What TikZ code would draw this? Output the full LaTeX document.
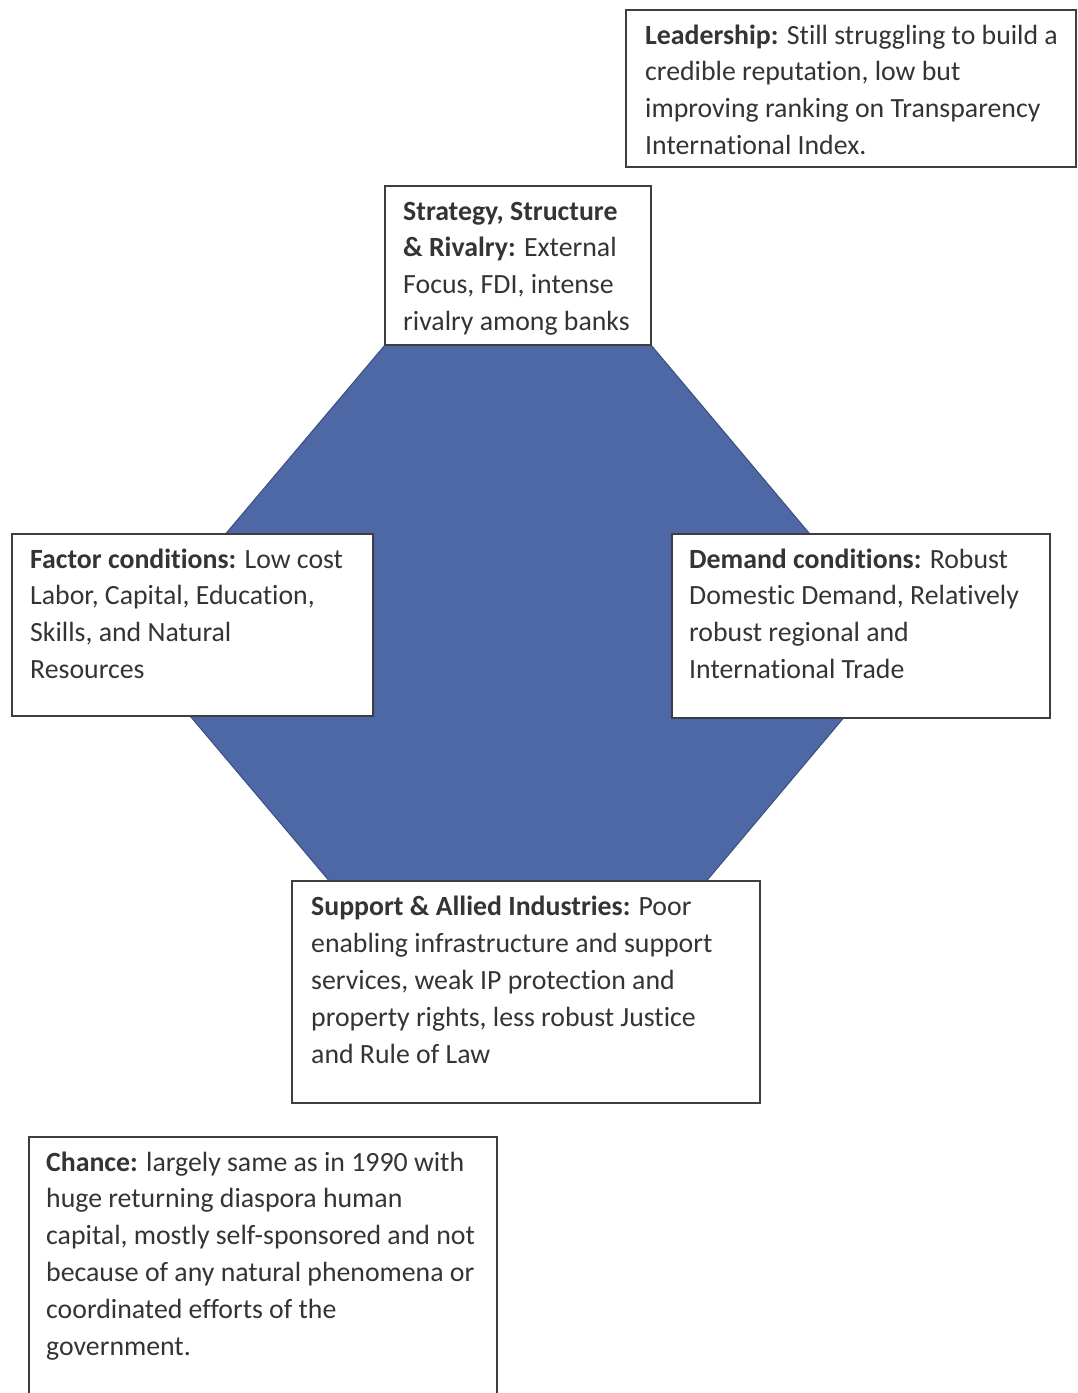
\documentclass[tikz,border=0pt]{standalone}
\usepackage{fontspec}
\setmainfont{Carlito}[Ligatures=NoCommon]
\definecolor{hexblue}{RGB}{78,104,166}
\definecolor{hexedge}{RGB}{58,78,128}
\definecolor{boxline}{RGB}{62,62,62}
\definecolor{ink}{RGB}{52,52,52}
\tikzset{
  infobox/.style={draw=boxline, line width=1.6pt, fill=white, anchor=north west,
    inner sep=0pt, outer sep=0pt},
  infotext/.style={anchor=north west, inner sep=0pt, align=left, text=ink,
    font=\fontsize{27.8}{36.8}\selectfont},
}
\begin{document}
\begin{tikzpicture}[x=1pt, y=-1pt]
  \clip (0,0) rectangle (1078,1393);
  \fill[white] (0,0) rectangle (1078,1393);

  % central hexagon behind the boxes
  \draw[fill=hexblue, draw=hexedge, line width=1pt]
    (385,345) -- (651,345) -- (904,646) -- (651,947) -- (385,947) -- (131,646) -- cycle;

  % boxes
  \node[infobox, minimum width=450pt, minimum height=157pt] (lead) at (626,10) {};
  \node[infobox, minimum width=266pt, minimum height=159pt] (strat) at (385,186) {};
  \node[infobox, minimum width=361pt, minimum height=182pt] (factor) at (12,534) {};
  \node[infobox, minimum width=378pt, minimum height=184pt] (demand) at (672,534) {};
  \node[infobox, minimum width=468pt, minimum height=222pt] (support) at (292,881) {};
  \node[infobox, minimum width=468pt, minimum height=290pt] (chance) at (29,1137) {};

  % texts
  \node[infotext] (leadtxt) at ([shift={(19,8.2)}]lead.north west)
    {\strut\textbf{Leadership:} Still struggling to build a\\
     credible reputation, low but\\
     improving ranking on Transparency\\
     International Index.};
  \node[infotext] (strattxt) at ([shift={(18,8.2)}]strat.north west)
    {\strut\textbf{Strategy, Structure}\\
     \textbf{\& Rivalry:} External\\
     Focus, FDI, intense\\
     rivalry among banks};
  \node[infotext] (factortxt) at ([shift={(18,8.2)}]factor.north west)
    {\strut\textbf{Factor conditions:} Low cost\\
     Labor, Capital, Education,\\
     Skills, and Natural\\
     Resources};
  \node[infotext] (demandtxt) at ([shift={(17,8.2)}]demand.north west)
    {\strut\textbf{Demand conditions:} Robust\\
     Domestic Demand, Relatively\\
     robust regional and\\
     International Trade};
  \node[infotext] (supporttxt) at ([shift={(19,9)}]support.north west)
    {\strut\textbf{Support \& Allied Industries:} Poor\\
     enabling infrastructure and support\\
     services, weak IP protection and\\
     property rights, less robust Justice\\
     and Rule of Law};
  \node[infotext] (chancetxt) at ([shift={(17,8.2)}]chance.north west)
    {\strut\textbf{Chance:} largely same as in 1990 with\\
     huge returning diaspora human\\
     capital, mostly self-sponsored and not\\
     because of any natural phenomena or\\
     coordinated efforts of the\\
     government.};
\end{tikzpicture}
\end{document}
